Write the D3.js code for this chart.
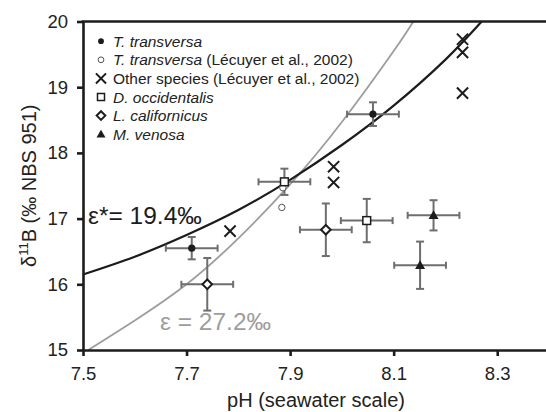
<!DOCTYPE html>
<html>
<head>
<meta charset="utf-8">
<script src="https://cdn.jsdelivr.net/npm/d3@7"></script>
<style>
  body { margin: 0; background: #fff; }
  svg { font-family: "Liberation Sans", Arial, sans-serif; }
</style>
</head>
<body>
<svg id="chart" width="546" height="412"></svg>
<script>
// data: [pH, d11B, pH error, d11B error]
const tTransversa = [[7.71, 16.55, 0.05, 0.17], [8.06, 18.59, 0.05, 0.18]];
const tTransversaLecuyer = [[7.884, 17.17], [7.886, 17.47]];
const otherSpecies = [[7.784, 16.81], [7.984, 17.79], [7.984, 17.55], [8.233, 19.73], [8.233, 19.53], [8.233, 18.91]];
const dOccidentalis = [[7.889, 17.56, 0.05, 0.2], [8.048, 16.97, 0.05, 0.33]];
const lCalifornicus = [[7.74, 16.0, 0.05, 0.4], [7.969, 16.83, 0.05, 0.4]];
const mVenosa = [[8.177, 17.05, 0.05, 0.23], [8.151, 16.29, 0.05, 0.36]];

// curves
const curveEpsStar = [[7.5, 16.15], [7.6, 16.42], [7.7, 16.75], [7.8, 17.13], [7.9, 17.59], [8.0, 18.12], [8.1, 18.72], [8.2, 19.42], [8.27, 20.0]];
const curveEps = [[7.51, 15.0], [7.6, 15.45], [7.7, 16.0], [7.8, 16.7], [7.9, 17.52], [8.0, 18.47], [8.1, 19.55], [8.138, 20.0]];

const xTicks = [7.5, 7.7, 7.9, 8.1, 8.3];
const yTicks = [15, 16, 17, 18, 19, 20];

const legendItems = [
  { sym: "dot", italic: "T. transversa", rest: "" },
  { sym: "ring", italic: "T. transversa", rest: " (Lécuyer et al., 2002)" },
  { sym: "cross", italic: "", rest: "Other species (Lécuyer et al., 2002)" },
  { sym: "square", italic: "D. occidentalis", rest: "" },
  { sym: "diamond", italic: "L. californicus", rest: "" },
  { sym: "triangle", italic: "M. venosa", rest: "" },
];

const svg = d3.select("#chart");
const x = d3.scaleLinear().domain([7.5, 8.4]).range([83, 549]);
const y = d3.scaleLinear().domain([15, 20]).range([350, 21.5]);

const errGrey = "#6e6e6e";
const ink = "#1c1c1c";

// curves
const line = d3.line().x(d => x(d[0])).y(d => y(d[1])).curve(d3.curveNatural);
svg.append("path").datum(curveEps)
  .attr("fill", "none").attr("stroke", "#9d9d9d").attr("stroke-width", 1.8)
  .attr("d", line);
svg.append("path").datum(curveEpsStar)
  .attr("fill", "none").attr("stroke", ink).attr("stroke-width", 2.2)
  .attr("d", line);

// axes
const xAxis = svg.append("g").attr("transform", `translate(0,${y(15)})`)
  .call(d3.axisBottom(x).tickValues(xTicks).tickFormat(d3.format(".1f")).tickSize(6).tickSizeOuter(0).tickPadding(11));
const yAxis = svg.append("g").attr("transform", `translate(${x(7.5)},0)`)
  .call(d3.axisLeft(y).tickValues(yTicks).tickFormat(d3.format("d")).tickSize(6).tickSizeOuter(0).tickPadding(9));
[xAxis, yAxis].forEach(g => {
  g.select(".domain").attr("stroke", ink).attr("stroke-width", 2.6);
  g.selectAll(".tick line").attr("stroke", ink).attr("stroke-width", 2.6);
  g.selectAll(".tick text").attr("fill", "#222").attr("font-size", 18.5)
    .attr("font-family", "Liberation Sans, Arial, sans-serif");
});
// top frame line
svg.append("line")
  .attr("x1", x(7.5) - 1.3).attr("x2", x(8.4)).attr("y1", y(20)).attr("y2", y(20))
  .attr("stroke", ink).attr("stroke-width", 2.6);

// axis titles
svg.append("text").attr("x", (x(7.5) + x(8.4)) / 2).attr("y", 407)
  .attr("text-anchor", "middle").attr("font-size", 20).attr("fill", "#222")
  .text("pH (seawater scale)");
const yt = svg.append("text")
  .attr("transform", `translate(36,${(y(15) + y(20)) / 2}) rotate(-90)`)
  .attr("text-anchor", "middle").attr("font-size", 20).attr("fill", "#222");
yt.append("tspan").text("δ");
yt.append("tspan").attr("font-size", 13).attr("dy", -8).text("11");
yt.append("tspan").attr("dy", 8).text("B (‰ NBS 951)");

// curve labels
svg.append("text").attr("x", 88).attr("y", 224).attr("font-size", 24.5).attr("fill", ink)
  .text("ε*= 19.4‰");
svg.append("text").attr("x", 160).attr("y", 330).attr("font-size", 24.5).attr("fill", "#9d9d9d")
  .text("ε = 27.2‰");

// error bars
const withErr = [].concat(tTransversa, dOccidentalis, lCalifornicus, mVenosa);
const eb = svg.append("g").attr("stroke", errGrey).attr("stroke-width", 2).attr("fill", "none");
withErr.forEach(d => {
  const cx = x(d[0]), cy = y(d[1]);
  const x0 = x(d[0] - d[2]), x1 = x(d[0] + d[2]);
  const y0 = y(d[1] - d[3]), y1 = y(d[1] + d[3]);
  eb.append("line").attr("x1", x0).attr("x2", x1).attr("y1", cy).attr("y2", cy);
  eb.append("line").attr("x1", cx).attr("x2", cx).attr("y1", y0).attr("y2", y1);
  eb.append("line").attr("x1", x0).attr("x2", x0).attr("y1", cy - 3.5).attr("y2", cy + 3.5);
  eb.append("line").attr("x1", x1).attr("x2", x1).attr("y1", cy - 3.5).attr("y2", cy + 3.5);
  eb.append("line").attr("x1", cx - 4).attr("x2", cx + 4).attr("y1", y0).attr("y2", y0);
  eb.append("line").attr("x1", cx - 4).attr("x2", cx + 4).attr("y1", y1).attr("y2", y1);
});

// marker drawing
function drawSym(g, sym, cx, cy, scale) {
  const s = scale || 1;
  if (sym === "dot") {
    g.append("circle").attr("cx", cx).attr("cy", cy).attr("r", 3.6 * s).attr("fill", ink);
  } else if (sym === "ring") {
    g.append("circle").attr("cx", cx).attr("cy", cy).attr("r", 3.2 * s)
      .attr("fill", "#fff").attr("stroke", "#555").attr("stroke-width", 1);
  } else if (sym === "cross") {
    const h = 5.6 * s;
    g.append("path").attr("d", `M${cx - h},${cy - h}L${cx + h},${cy + h}M${cx - h},${cy + h}L${cx + h},${cy - h}`)
      .attr("stroke", ink).attr("stroke-width", 2).attr("fill", "none");
  } else if (sym === "square") {
    const h = 3.9 * s;
    g.append("rect").attr("x", cx - h).attr("y", cy - h).attr("width", 2 * h).attr("height", 2 * h)
      .attr("fill", "#fff").attr("stroke", ink).attr("stroke-width", 1.5);
  } else if (sym === "diamond") {
    const h = 4.8 * s;
    g.append("path").attr("d", `M${cx},${cy - h}L${cx + h},${cy}L${cx},${cy + h}L${cx - h},${cy}Z`)
      .attr("fill", "#fff").attr("stroke", ink).attr("stroke-width", 2);
  } else if (sym === "triangle") {
    const h = 5 * s;
    g.append("path").attr("d", `M${cx},${cy - h}L${cx + h},${cy + h * 0.75}L${cx - h},${cy + h * 0.75}Z`)
      .attr("fill", ink);
  }
}

const marks = svg.append("g");
tTransversaLecuyer.forEach(d => drawSym(marks, "ring", x(d[0]), y(d[1])));
otherSpecies.forEach(d => drawSym(marks, "cross", x(d[0]), y(d[1])));
tTransversa.forEach(d => drawSym(marks, "dot", x(d[0]), y(d[1])));
dOccidentalis.forEach(d => drawSym(marks, "square", x(d[0]), y(d[1])));
lCalifornicus.forEach(d => drawSym(marks, "diamond", x(d[0]), y(d[1])));
mVenosa.forEach(d => drawSym(marks, "triangle", x(d[0]), y(d[1])));

// legend
const lg = svg.append("g");
legendItems.forEach((it, i) => {
  const base = 46.7 + i * 18.6;
  drawSym(lg, it.sym, 101, base - 5.5, it.sym === "dot" ? 0.8 : 0.9);
  const t = lg.append("text").attr("x", 113).attr("y", base).attr("font-size", 15.5).attr("fill", "#222");
  if (it.italic) t.append("tspan").attr("font-style", "italic").text(it.italic);
  if (it.rest) t.append("tspan").text(it.rest);
});
</script>
</body>
</html>
